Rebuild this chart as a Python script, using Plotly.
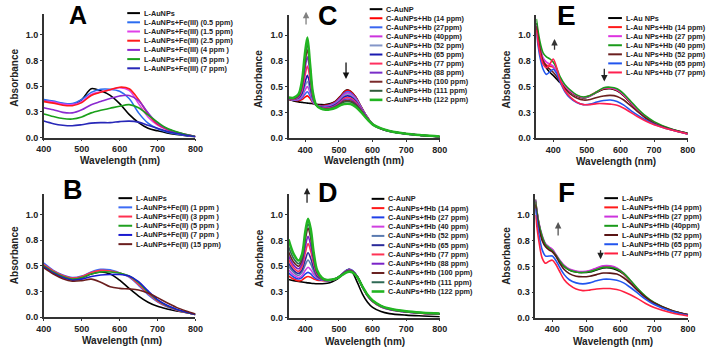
import plotly.graph_objects as go

W, H = 713, 353

# ---------------- data ----------------
wl_A = [400, 425, 450, 475, 500, 525, 550, 575, 600, 625, 650, 675, 700, 725, 750, 775, 800]
names_A = ["L-AuNPs", "L-AuNPs+Fe(III) (0.5 ppm)", "L-AuNPs+Fe(III) (1.5 ppm)",
           "L-AuNPs+Fe(III) (2.5 ppm)", "L-AuNPs+Fe(III) (4 ppm )",
           "L-AuNPs+Fe(III) (5 ppm )", "L-AuNPs+Fe(III) (7 ppm)"]
A_ctrl = [0.36, 0.345, 0.325, 0.32, 0.37, 0.475, 0.455, 0.41, 0.33, 0.225, 0.145, 0.09, 0.065, 0.045, 0.03, 0.018, 0.008]
A_fe05 = [0.37, 0.355, 0.335, 0.33, 0.37, 0.44, 0.47, 0.47, 0.45, 0.38, 0.24, 0.14, 0.085, 0.055, 0.035, 0.02, 0.008]
A_fe15 = [0.355, 0.345, 0.325, 0.32, 0.35, 0.42, 0.445, 0.465, 0.485, 0.46, 0.33, 0.2, 0.12, 0.075, 0.045, 0.025, 0.01]
A_fe25 = [0.35, 0.335, 0.315, 0.31, 0.34, 0.41, 0.44, 0.465, 0.49, 0.475, 0.37, 0.23, 0.13, 0.08, 0.05, 0.028, 0.01]
A_fe4 = [0.29, 0.27, 0.245, 0.24, 0.27, 0.32, 0.35, 0.38, 0.405, 0.41, 0.36, 0.24, 0.14, 0.085, 0.05, 0.028, 0.01]
A_fe5 = [0.23, 0.205, 0.185, 0.18, 0.2, 0.24, 0.265, 0.285, 0.305, 0.32, 0.29, 0.22, 0.15, 0.09, 0.055, 0.03, 0.01]
A_fe7 = [0.16, 0.135, 0.12, 0.115, 0.125, 0.14, 0.145, 0.145, 0.155, 0.16, 0.15, 0.12, 0.09, 0.06, 0.04, 0.022, 0.008]
colors_A = ["#000000", "#2b6cf0", "#e040e8", "#ff1a1a", "#8a2ad0", "#1aa01a", "#2828b8"]

wl_B = [400, 425, 450, 475, 500, 525, 550, 575, 600, 625, 650, 675, 700, 725, 750, 775, 800]
names_B = ["L-AuNPs", "L-AuNPs+Fe(II) (1 ppm )", "L-AuNPs+Fe(II) (3 ppm )",
           "L-AuNPs+Fe(II) (5 ppm )", "L-AuNPs+Fe(II) (7 ppm )", "L-AuNPs+Fe(II) (15 ppm)"]
B_ctrl = [0.50, 0.44, 0.395, 0.37, 0.385, 0.42, 0.44, 0.42, 0.36, 0.28, 0.205, 0.145, 0.105, 0.08, 0.06, 0.045, 0.025]
B_fe1 = [0.525, 0.455, 0.41, 0.385, 0.40, 0.44, 0.465, 0.46, 0.43, 0.39, 0.31, 0.22, 0.15, 0.10, 0.07, 0.045, 0.025]
B_fe3 = [0.51, 0.45, 0.405, 0.38, 0.395, 0.435, 0.455, 0.45, 0.43, 0.395, 0.32, 0.23, 0.155, 0.105, 0.07, 0.045, 0.025]
B_fe5 = [0.50, 0.44, 0.395, 0.37, 0.385, 0.42, 0.44, 0.44, 0.43, 0.40, 0.335, 0.245, 0.165, 0.11, 0.075, 0.048, 0.025]
B_fe7 = [0.49, 0.43, 0.385, 0.36, 0.37, 0.395, 0.41, 0.415, 0.415, 0.40, 0.345, 0.255, 0.17, 0.115, 0.078, 0.05, 0.025]
B_fe15 = [0.48, 0.42, 0.375, 0.35, 0.355, 0.37, 0.34, 0.295, 0.28, 0.275, 0.265, 0.235, 0.19, 0.14, 0.095, 0.06, 0.03]
colors_B = ["#000000", "#3d6cf5", "#ff3050", "#20a020", "#1a1ad0", "#6b1f1f"]

wl_C = [350, 365, 380, 390, 398, 406, 414, 422, 432, 445, 460, 475, 490, 505, 515, 525, 535, 550, 565, 580, 600, 625, 650, 700, 750, 800]
names_C = ["C-AuNP", "C-AuNPs+Hb (14 ppm)", "C-AuNPs+Hb (27ppm)", "C-AuNPs+Hb (40ppm)",
           "C-AuNPs+Hb (52 ppm)", "C-AuNPs+Hb (65 ppm)", "C-AuNPs+Hb (77 ppm)",
           "C-AuNPs+Hb (88 ppm)", "C-AuNPs+Hb (100 ppm)", "C-AuNPs+Hb (111 ppm)",
           "C-AuNPs+Hb (122 ppm)"]
C_ctrl = [.375, .362, .352, .347, .343, .340, .337, .334, .330, .326, .325, .335, .360, .410, .450, .470, .455, .400, .310, .225, .135, .090, .065, .040, .025, .012]
C_hb14 = [.378, .368, .365, .375, .395, .410, .385, .345, .322, .315, .318, .330, .355, .405, .445, .465, .452, .398, .310, .225, .135, .090, .065, .040, .025, .012]
C_hb27 = [.380, .370, .372, .390, .425, .450, .410, .350, .320, .310, .312, .323, .347, .395, .432, .452, .440, .390, .305, .222, .135, .090, .065, .040, .025, .012]
C_hb40 = [.382, .372, .378, .405, .460, .500, .440, .360, .320, .307, .306, .316, .340, .385, .422, .440, .428, .380, .300, .220, .135, .090, .066, .040, .025, .012]
C_hb52 = [.383, .374, .384, .420, .495, .550, .470, .370, .321, .304, .301, .310, .333, .375, .410, .425, .415, .370, .294, .218, .135, .091, .066, .040, .025, .013]
C_hb65 = [.385, .376, .390, .435, .530, .610, .510, .385, .321, .301, .296, .304, .326, .365, .397, .410, .402, .360, .288, .215, .134, .091, .066, .040, .025, .013]
C_hb77 = [.387, .379, .398, .460, .590, .700, .570, .400, .322, .298, .291, .298, .318, .355, .385, .395, .388, .350, .282, .212, .134, .091, .067, .041, .026, .013]
C_hb88 = [.389, .382, .406, .485, .650, .790, .630, .415, .322, .295, .286, .292, .311, .345, .372, .380, .374, .338, .276, .209, .133, .092, .067, .041, .026, .013]
C_hb100 = [.391, .385, .414, .510, .700, .860, .680, .428, .322, .292, .281, .287, .305, .337, .360, .366, .361, .328, .270, .206, .133, .092, .068, .041, .026, .014]
C_hb111 = [.393, .388, .421, .530, .745, .920, .700, .438, .322, .290, .278, .283, .300, .330, .350, .355, .350, .320, .266, .203, .133, .093, .068, .042, .026, .014]
C_hb122 = [.395, .392, .430, .560, .800, .980, .720, .450, .323, .288, .275, .280, .295, .320, .330, .333, .330, .302, .255, .198, .133, .094, .069, .042, .027, .015]
colors_C = ["#000000", "#ff0000", "#3a66f0", "#cc33dd", "#8496c8", "#1a1ab0",
            "#ff3060", "#7a2ec8", "#7a2a2a", "#2f5a3a", "#22b522"]

wl_D = [350, 365, 380, 390, 400, 408, 416, 425, 435, 450, 465, 480, 495, 510, 520, 530, 540, 555, 570, 585, 600, 625, 650, 700, 750, 800]
names_D = ["C-AuNP", "C-AuNPs+fHb (14 ppm)", "C-AuNPs+fHb (27 ppm)", "C-AuNPs+fHb (40 ppm)",
           "C-AuNPs+fHb (52 ppm)", "C-AuNPs+fHb (65 ppm)", "C-AuNPs+fHb (77 ppm)",
           "C-AuNPs+fHb (88 ppm)", "C-AuNPs+fHb (100 ppm)", "C-AuNPs+fHb (111 ppm)",
           "C-AuNPs+fHb (122 ppm)"]
D_ctrl = [.370, .360, .352, .347, .342, .338, .335, .332, .330, .330, .335, .350, .375, .420, .455, .470, .440, .340, .230, .150, .100, .060, .040, .025, .017, .010]
D_f14 = [.405, .375, .357, .365, .390, .400, .392, .375, .365, .360, .357, .365, .385, .425, .452, .468, .455, .395, .295, .210, .155, .105, .080, .055, .042, .035]
D_f27 = [.435, .395, .375, .390, .425, .440, .425, .395, .375, .365, .358, .366, .387, .427, .455, .470, .458, .398, .298, .213, .158, .107, .081, .056, .043, .035]
D_f40 = [.465, .415, .390, .410, .460, .490, .465, .420, .385, .368, .359, .366, .386, .425, .452, .466, .455, .397, .298, .214, .159, .108, .082, .057, .044, .036]
D_f52 = [.500, .440, .410, .440, .515, .560, .520, .450, .395, .370, .360, .367, .386, .424, .450, .464, .454, .397, .299, .215, .160, .109, .083, .057, .044, .036]
D_f65 = [.530, .460, .430, .465, .565, .630, .575, .480, .405, .372, .361, .368, .386, .423, .449, .462, .452, .396, .299, .216, .161, .110, .084, .058, .045, .037]
D_f77 = [.565, .485, .450, .495, .630, .720, .645, .520, .420, .375, .362, .368, .386, .422, .447, .460, .451, .396, .300, .217, .162, .111, .085, .058, .045, .037]
D_f88 = [.600, .510, .475, .525, .690, .790, .700, .550, .430, .378, .363, .369, .386, .421, .446, .458, .449, .395, .300, .218, .163, .112, .085, .059, .046, .038]
D_f100 = [.640, .540, .500, .560, .760, .870, .770, .580, .440, .380, .364, .369, .386, .420, .444, .456, .448, .395, .301, .219, .164, .113, .086, .059, .046, .038]
D_f111 = [.690, .575, .525, .585, .800, .910, .810, .600, .450, .383, .365, .370, .386, .419, .442, .453, .446, .394, .301, .220, .165, .114, .087, .060, .047, .039]
D_f122 = [.760, .620, .555, .615, .840, .960, .860, .630, .460, .386, .366, .370, .385, .415, .435, .445, .440, .392, .302, .222, .167, .116, .089, .062, .049, .041]
colors_D = ["#000000", "#ff1a1a", "#2040e8", "#d040e0", "#5a7ab0", "#2a2a9a",
            "#ff3355", "#7a22c8", "#6a2222", "#2f6a55", "#22b522"]

wl_E = [350, 360, 370, 380, 390, 400, 410, 420, 435, 450, 470, 490, 510, 530, 550, 570, 590, 610, 630, 650, 675, 700, 750, 800]
names_E = ["L-Au NPs", "L-Au NPs+Hb (14 ppm)", "L-Au NPs+Hb (27 ppm)", "L-Au NPs+Hb (40 ppm)",
           "L-Au NPs+Hb (52 ppm)", "L-Au NPs+Hb (65 ppm)", "L-Au NPs+Hb (77 ppm)"]
E_ctrl = [1.12, 0.90, 0.75, 0.68, 0.64, 0.61, 0.575, 0.54, 0.49, 0.45, 0.41, 0.39, 0.41, 0.445, 0.475, 0.48, 0.46, 0.41, 0.34, 0.27, 0.20, 0.15, 0.085, 0.045]
E_hb14 = [1.08, 0.88, 0.76, 0.71, 0.70, 0.69, 0.645, 0.57, 0.50, 0.455, 0.415, 0.395, 0.415, 0.45, 0.48, 0.485, 0.465, 0.415, 0.345, 0.27, 0.195, 0.145, 0.08, 0.04]
E_hb27 = [1.10, 0.90, 0.78, 0.74, 0.72, 0.70, 0.65, 0.58, 0.51, 0.46, 0.415, 0.395, 0.41, 0.45, 0.485, 0.49, 0.47, 0.42, 0.35, 0.28, 0.205, 0.15, 0.085, 0.04]
E_hb40 = [1.16, 0.95, 0.83, 0.79, 0.77, 0.74, 0.68, 0.60, 0.52, 0.47, 0.42, 0.40, 0.415, 0.45, 0.49, 0.495, 0.48, 0.43, 0.36, 0.29, 0.215, 0.16, 0.09, 0.045]
E_hb52 = [1.09, 0.88, 0.75, 0.70, 0.67, 0.64, 0.60, 0.55, 0.48, 0.43, 0.39, 0.37, 0.375, 0.395, 0.41, 0.415, 0.405, 0.37, 0.315, 0.26, 0.195, 0.145, 0.085, 0.045]
E_hb65 = [1.02, 0.80, 0.67, 0.62, 0.645, 0.67, 0.63, 0.55, 0.45, 0.39, 0.345, 0.325, 0.33, 0.35, 0.365, 0.37, 0.355, 0.32, 0.27, 0.225, 0.175, 0.135, 0.08, 0.04]
E_hb77 = [1.05, 0.84, 0.72, 0.685, 0.72, 0.77, 0.69, 0.57, 0.46, 0.40, 0.35, 0.325, 0.325, 0.335, 0.335, 0.33, 0.32, 0.29, 0.25, 0.21, 0.165, 0.13, 0.08, 0.04]
colors_E = ["#000000", "#ff1a1a", "#dd33e0", "#1a9a1a", "#6b1f1f", "#2255ee", "#ff2050"]

wl_F = [350, 360, 370, 380, 390, 400, 410, 420, 435, 450, 470, 490, 510, 530, 550, 570, 590, 610, 630, 650, 675, 700, 750, 800]
names_F = ["L-AuNPs", "L-AuNPs+fHb (14 ppm)", "L-AuNPs+fHb (27 ppm)", "L-AuNPs+fHb (40ppm)",
           "L-AuNPs+fHb (52 ppm)", "L-AuNPs+fHb (65 ppm)", "L-AuNPs+fHb (77 ppm)"]
F_ctrl = [1.15, 0.92, 0.78, 0.71, 0.68, 0.66, 0.61, 0.56, 0.50, 0.465, 0.445, 0.44, 0.445, 0.465, 0.485, 0.485, 0.465, 0.425, 0.355, 0.28, 0.20, 0.14, 0.07, 0.03]
F_f14 = [1.12, 0.91, 0.78, 0.71, 0.68, 0.655, 0.61, 0.56, 0.505, 0.47, 0.45, 0.445, 0.455, 0.48, 0.50, 0.50, 0.48, 0.43, 0.355, 0.28, 0.20, 0.14, 0.07, 0.03]
F_f27 = [1.14, 0.93, 0.80, 0.72, 0.69, 0.665, 0.62, 0.57, 0.51, 0.475, 0.455, 0.45, 0.46, 0.485, 0.505, 0.505, 0.485, 0.435, 0.36, 0.285, 0.205, 0.145, 0.072, 0.03]
F_f40 = [1.13, 0.92, 0.79, 0.71, 0.68, 0.65, 0.61, 0.56, 0.50, 0.465, 0.445, 0.44, 0.45, 0.47, 0.49, 0.49, 0.475, 0.435, 0.365, 0.29, 0.21, 0.15, 0.075, 0.03]
F_f52 = [1.10, 0.88, 0.75, 0.69, 0.66, 0.64, 0.60, 0.54, 0.47, 0.43, 0.405, 0.40, 0.405, 0.42, 0.435, 0.435, 0.425, 0.39, 0.335, 0.27, 0.20, 0.145, 0.075, 0.03]
F_f65 = [1.06, 0.82, 0.66, 0.60, 0.60, 0.60, 0.56, 0.50, 0.42, 0.37, 0.34, 0.33, 0.34, 0.36, 0.375, 0.375, 0.365, 0.34, 0.295, 0.245, 0.18, 0.13, 0.065, 0.025]
F_f77 = [1.00, 0.75, 0.58, 0.53, 0.55, 0.56, 0.52, 0.46, 0.37, 0.32, 0.28, 0.265, 0.27, 0.28, 0.285, 0.285, 0.275, 0.255, 0.225, 0.19, 0.14, 0.10, 0.05, 0.02]
colors_F = ["#000000", "#ff1a1a", "#cc33dd", "#1a9a1a", "#5a1515", "#2255ee", "#ff2040"]

y_tickvals = [0, 0.25, 0.5, 0.75, 1.0]
y_ticktext = ["0.0", "0.3", "0.5", "0.8", "1.0"]
x_tickvals = [400, 500, 600, 700, 800]

# ---------------- layout helpers ----------------
def fx(px):
    return px / W

def fy(py):
    return 1 - py / H

FONT = "Liberation Sans, Arial, sans-serif"

panels = [
    dict(key="", letter="A", wl=wl_A, series=[A_ctrl, A_fe05, A_fe15, A_fe25, A_fe4, A_fe5, A_fe7],
         names=names_A, colors=colors_A, xr=[400, 800], xpx=(36.7, 191.7), y0=139.5, ytop=14.5,
         letter_pos=(72, 15), letter_size=25, ytitle=(7, 79), xtitle=(114.5, 163),
         leg=(122, 135, 137, 13.3, 9.33), arrows=[]),
    dict(key="2", letter="B", wl=wl_B, series=[B_ctrl, B_fe1, B_fe3, B_fe5, B_fe7, B_fe15],
         names=names_B, colors=colors_B, xr=[400, 800], xpx=(36.7, 191.7), y0=321.7, ytop=196.7,
         letter_pos=(66.5, 193), letter_size=27, ytitle=(6, 259), xtitle=(116.5, 345.5),
         leg=(113, 127, 128.5, 201, 9.33), arrows=[]),
    dict(key="3", letter="C", wl=wl_C,
         series=[C_ctrl, C_hb14, C_hb27, C_hb40, C_hb52, C_hb65, C_hb77, C_hb88, C_hb100, C_hb111, C_hb122],
         names=names_C, colors=colors_C, xr=[350, 800], xpx=(287, 441.7), y0=140, ytop=15,
         letter_pos=(327.5, 16.5), letter_size=27, ytitle=(257, 80), xtitle=(364, 163),
         leg=(370, 383, 385, 9.3, 9.2),
         arrows=[(402, 1.23, 402, 1.09, "#808080"), (521, 0.575, 521, 0.75, "#111111")]),
    dict(key="4", letter="D", wl=wl_D,
         series=[D_ctrl, D_f14, D_f27, D_f40, D_f52, D_f65, D_f77, D_f88, D_f100, D_f111, D_f122],
         names=names_D, colors=colors_D, xr=[350, 800], xpx=(287, 441.7), y0=322.3, ytop=196.8,
         letter_pos=(327.5, 196), letter_size=27, ytitle=(257, 262), xtitle=(365, 346.5),
         leg=(372, 385, 387, 201.7, 9.4),
         arrows=[(405, 1.26, 405, 1.10, "#222222")]),
    dict(key="5", letter="E", wl=wl_E,
         series=[E_ctrl, E_hb14, E_hb27, E_hb40, E_hb52, E_hb65, E_hb77],
         names=names_E, colors=colors_E, xr=[350, 800], xpx=(540.5, 695.3), y0=140, ytop=15,
         letter_pos=(571.5, 16), letter_size=28, ytitle=(510, 81), xtitle=(621.5, 163.5),
         leg=(614, 628, 630, 18.3, 9.2),
         arrows=[(404, 0.965, 404, 0.845, "#333333"), (552, 0.55, 552, 0.69, "#222222")]),
    dict(key="6", letter="F", wl=wl_F,
         series=[F_ctrl, F_f14, F_f27, F_f40, F_f52, F_f65, F_f77],
         names=names_F, colors=colors_F, xr=[350, 800], xpx=(539.5, 695.7), y0=322.5, ytop=197,
         letter_pos=(571, 195.5), letter_size=28, ytitle=(510, 260), xtitle=(618.5, 346),
         leg=(610, 624, 626, 201, 9.35),
         arrows=[(417, 0.93, 417, 0.785, "#555555"), (542, 0.57, 542, 0.67, "#222222")]),
]

fig = go.Figure()
annotations = []
shapes = []
layout_axes = {}

for p in panels:
    k = p["key"]
    xa = "x" + k
    ya = "y" + k
    for vals, name, col in zip(p["series"], p["names"], p["colors"]):
        wide = (col == "#22b522")
        fig.add_trace(go.Scatter(
            x=p["wl"], y=vals, name=name, mode="lines",
            line=dict(color=col, width=2.5 if wide else 1.6, shape="spline", smoothing=0.9),
            xaxis=xa, yaxis=ya, showlegend=False, hoverinfo="skip"))
    x0p, x1p = p["xpx"]
    layout_axes["xaxis" + k] = dict(
        domain=[fx(x0p), fx(x1p)], range=p["xr"], anchor=ya,
        tickvals=x_tickvals, ticks="outside", ticklen=2, tickwidth=1, tickcolor="#333",
        showline=True, linecolor="#333", linewidth=1.5, showgrid=False, zeroline=False,
        tickfont=dict(family=FONT, size=9, color="#222", weight="bold"))
    layout_axes["yaxis" + k] = dict(
        domain=[fy(p["y0"]), fy(p["ytop"])], range=[0, 1.2], anchor=xa,
        tickvals=y_tickvals, ticktext=y_ticktext, ticks="outside", ticklen=2, tickwidth=1,
        tickcolor="#333", showline=True, linecolor="#333", linewidth=1.5,
        showgrid=False, zeroline=False,
        tickfont=dict(family=FONT, size=9, color="#222", weight="bold"))
    lx, ly = p["letter_pos"]
    annotations.append(dict(text=p["letter"], x=fx(lx), y=fy(ly), xref="paper", yref="paper",
                            showarrow=False, xanchor="center", yanchor="middle",
                            font=dict(family=FONT, size=p["letter_size"], color="#000", weight="bold")))
    tx, ty = p["ytitle"]
    annotations.append(dict(text="Absorbance", x=fx(tx), y=fy(ty), xref="paper", yref="paper",
                            showarrow=False, textangle=-90, xanchor="center", yanchor="middle",
                            font=dict(family=FONT, size=10, color="#222", weight="bold")))
    tx, ty = p["xtitle"]
    annotations.append(dict(text="Wavelength (nm)", x=fx(tx), y=fy(ty), xref="paper", yref="paper",
                            showarrow=False, xanchor="center", yanchor="middle",
                            font=dict(family=FONT, size=10, color="#222", weight="bold")))
    lx0, lx1, ltx, ly0, ldy = p["leg"]
    for i, (name, col) in enumerate(zip(p["names"], p["colors"])):
        yy = ly0 + i * ldy
        shapes.append(dict(type="line", xref="paper", yref="paper",
                           x0=fx(lx0), x1=fx(lx1), y0=fy(yy), y1=fy(yy),
                           line=dict(color=col, width=2 if col != "#22b522" else 2.6)))
        annotations.append(dict(text=name, x=fx(ltx), y=fy(yy), xref="paper", yref="paper",
                                showarrow=False, xanchor="left", yanchor="middle",
                                font=dict(family=FONT, size=7.3, color="#222", weight="bold")))
    for (hx, hy, tx_, ty_, col) in p["arrows"]:
        annotations.append(dict(text="", x=hx, y=hy, ax=tx_, ay=ty_, xref=xa, yref=ya,
                                axref=xa, ayref=ya, showarrow=True, arrowhead=2,
                                arrowsize=1, arrowwidth=1.3, arrowcolor=col))

fig.update_layout(
    width=W, height=H, margin=dict(l=0, r=0, t=0, b=0),
    paper_bgcolor="white", plot_bgcolor="white",
    showlegend=False, annotations=annotations, shapes=shapes,
    **layout_axes)

fig.write_html("out.html")
